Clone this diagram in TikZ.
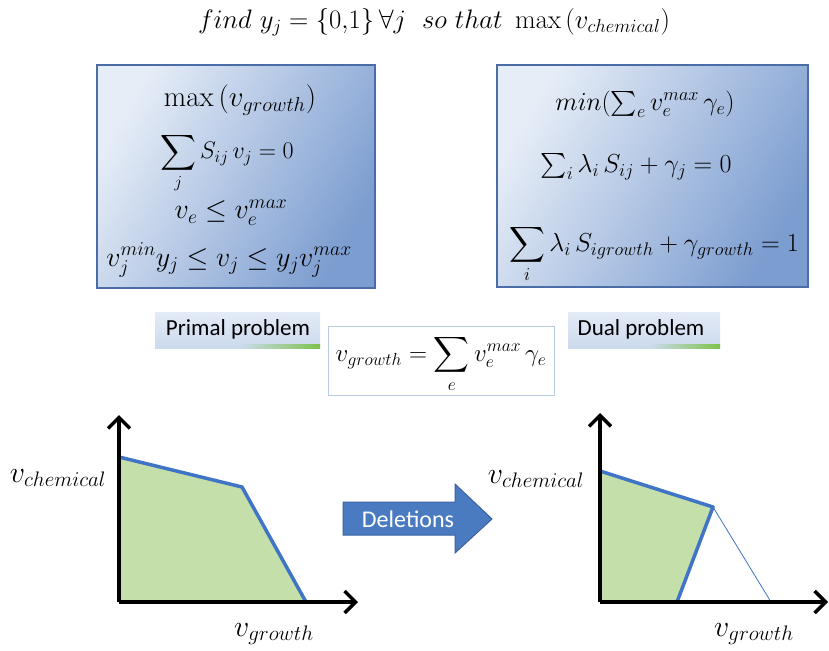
\RequirePackage{fix-cm}
\documentclass[tikz,border=0pt]{standalone}
\usepackage{amsmath}
\usepackage{fontspec}
\newfontfamily\calib{Carlito}
\usetikzlibrary{arrows.meta}
\definecolor{boxlight}{HTML}{E6EDF7}
\definecolor{boxdark}{HTML}{7C9DD0}
\definecolor{boxborder}{HTML}{4A6DA8}
\definecolor{regiongreen}{HTML}{C4DFAA}
\definecolor{lineblue}{HTML}{3F74C6}
\definecolor{arrowfill}{HTML}{4A7BC1}
\definecolor{arrowborder}{HTML}{3A62A0}
\definecolor{labblue}{HTML}{CCDAEE}
\definecolor{labgreen}{HTML}{7DC24A}
\definecolor{midborder}{HTML}{B9CCE6}
\newcommand{\fsz}[1]{\fontsize{#1}{#1}\selectfont}
\begin{document}
\begin{tikzpicture}[x=1pt,y=-1pt,
  bigbox/.style={draw=boxborder, line width=2pt, left color=boxlight, right color=boxdark, shading angle=60},
  mtext/.style={font=\fsz{28}, inner sep=0pt},
  labtext/.style={font=\calib\fsz{23}, inner sep=0pt},
  axisline/.style={line width=3.5pt, -{Straight Barb[length=11pt,width=22pt,line width=3.5pt]}},
  frontier/.style={draw=lineblue, line width=3.5pt, line join=round},
  region/.style={fill=regiongreen}
]
\useasboundingbox (0,0) rectangle (829,650);

% title
\node[mtext, font=\fsz{26.7}] (title) at (434,22) {$find\ y_j=\{0{,}1\}\,\forall j\ \ so\ that\ \max\,(v_{chemical})$};

% primal box
\path[bigbox] (97,65) rectangle (375,288);
\node[mtext, font=\fsz{29}] (p1) at (240,100) {$\max\,(v_{growth})$};
\node[mtext, font=\fsz{24}] (p2) at (227,163) {$\displaystyle\sum_j S_{ij}\,v_j=0$};
\node[mtext, font=\fsz{28}] (p3) at (231,213) {$v_e\le v_e^{max}$};
\node[mtext] (p4) at (229,260) {$v_j^{min}y_j\le v_j\le y_j v_j^{max}$};

% dual box
\path[bigbox] (497,65) rectangle (808,287);
\node[mtext, font=\fsz{26}] (d1) at (645,104) {$min(\sum_e v_e^{max}\,\gamma_e)$};
\node[mtext, font=\fsz{26}] (d2) at (636,167) {$\sum_i\lambda_i\,S_{ij}+\gamma_j=0$};
\node[mtext, font=\fsz{26}] (d3) at (654,254) {$\displaystyle\sum_i\lambda_i\,S_{igrowth}+\gamma_{growth}=1$};

% labels
\path[top color=labblue!55, bottom color=labblue] (155,312) rectangle (320,348);
\path[left color=labblue, right color=labgreen] (240,344) rectangle (320,348);
\node[labtext] (primal) at (238,329) {Primal problem};
\path[top color=labblue!55, bottom color=labblue] (568,312) rectangle (720,348);
\path[left color=labblue, right color=labgreen] (650,344) rectangle (720,348);
\node[labtext] (dual) at (641,329) {Dual problem};

% middle relation
\node[draw=midborder, line width=1pt, fill=white, minimum width=226, minimum height=69] (mid) at (441,360.5) {};
\node[mtext, font=\fsz{25}] (rel) at (441,364) {$v_{growth}=\displaystyle\sum_e v_e^{max}\,\gamma_e$};

% left graph
\coordinate (lo) at (119,602);
\coordinate (ly) at (119,415);
\coordinate (lx) at (358,602);
\coordinate (la) at (119,457);
\coordinate (lb) at (242,487);
\coordinate (lc) at (306,602);
\fill[region] (lo) -- (la) -- (lb) -- (lc) -- cycle;
\draw[frontier] (la) -- (lb) -- (lc);
\draw[axisline] (lo) -- (ly);
\draw[axisline] (lo) -- (lx);
\node[mtext, font=\fsz{30}] (lchem) at (58,478) {$v_{chemical}$};
\node[mtext, font=\fsz{30}] (lgrow) at (274,634) {$v_{growth}$};

% deletions arrow
\filldraw[fill=arrowfill, draw=arrowborder, line width=1pt]
  (343,502) -- (455,502) -- (455,484) -- (492,519) -- (455,553) -- (455,535) -- (343,535) -- cycle;
\node[font=\calib\fsz{24}, text=white, inner sep=0pt] (del) at (408,519) {Deletions};

% right graph
\coordinate (ro) at (600,602);
\coordinate (ry) at (600,413);
\coordinate (rx) at (828,602);
\coordinate (ra) at (600,471);
\coordinate (rb) at (713,507);
\coordinate (rc) at (677,602);
\coordinate (rd) at (771,602);
\fill[region] (ro) -- (ra) -- (rb) -- (rc) -- cycle;
\draw[lineblue, line width=0.8pt] (rb) -- (rd);
\draw[frontier] (ra) -- (rb) -- (rc);
\draw[axisline] (ro) -- (ry);
\draw[axisline] (ro) -- (rx);
\node[mtext, font=\fsz{30}] (rchem) at (536,479) {$v_{chemical}$};
\node[mtext, font=\fsz{30}] (rgrow) at (754,634) {$v_{growth}$};
\end{tikzpicture}
\end{document}
